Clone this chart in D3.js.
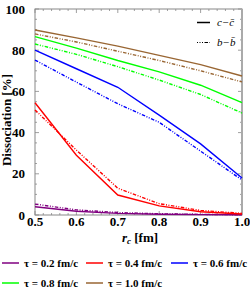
<!DOCTYPE html>
<html lang="en">
<head>
<meta charset="UTF-8">
<title>Dissociation vs r_c</title>
<script src="https://d3js.org/d3.v7.min.js"></script>
<style>
  body { margin: 0; background: white; }
  text { font-family: "Liberation Serif", "DejaVu Serif", serif; }
</style>
</head>
<body>
<svg width="250" height="295"></svg>
<script>
// r_c values (fm)
var rc = [0.5, 0.6, 0.7, 0.8, 0.9, 1.0];
var taus = ["0.2", "0.4", "0.6", "0.8", "1.0"];
var tauColors = ["#800080", "#ff0000", "#0000ff", "#00ff00", "#996633"];

// c-cbar (solid)
var ccTau02 = [4.0, 1.8, 0.8, 0.4, 0.2, 0.1];
var ccTau04 = [54.5, 29, 9.7, 4.4, 1.6, 0.5];
var ccTau06 = [80, 71, 62, 48.5, 34.5, 18];
var ccTau08 = [86.6, 81, 75, 69.5, 63, 54.5];
var ccTau10 = [89.8, 86, 82, 77.5, 73, 67.5];

// b-bbar (dot-dashed)
var bbTau02 = [5.3, 2.5, 1.2, 0.6, 0.3, 0.1];
var bbTau04 = [51, 31.5, 13, 5.5, 2.2, 0.8];
var bbTau06 = [75.2, 64.5, 54, 45, 31, 17];
var bbTau08 = [83, 78, 72, 65.5, 58.5, 49.5];
var bbTau10 = [87.9, 84, 79.5, 75, 70, 64.6];

var ccSeries = [ccTau02, ccTau04, ccTau06, ccTau08, ccTau10];
var bbSeries = [bbTau02, bbTau04, bbTau06, bbTau08, bbTau10];

var xTicks = [0.5, 0.6, 0.7, 0.8, 0.9, 1.0];
var yTicks = [0, 20, 40, 60, 80, 100];

var svg = d3.select("svg");
var x = d3.scaleLinear().domain([0.5, 1.0]).range([35, 242]);
var y = d3.scaleLinear().domain([0, 100]).range([215, 9]);

var frameColor = "#888";
var dashStyle = "3.5,1.5,1,1.5,1,1.5";

// minor/major ticks, inward on all four sides
var xMinor = d3.range(0.5, 1.0001, 0.02);
var yMinor = d3.range(0, 100.01, 5);

var ticks = svg.append("g").attr("stroke", frameColor).attr("stroke-width", 0.8);
xMinor.forEach(function(v) {
    var major = Math.abs(v * 10 - Math.round(v * 10)) < 1e-6;
    var len = major ? 4 : 2;
    ticks.append("line").attr("x1", x(v)).attr("x2", x(v)).attr("y1", y(0)).attr("y2", y(0) - len);
    ticks.append("line").attr("x1", x(v)).attr("x2", x(v)).attr("y1", y(100)).attr("y2", y(100) + len);
});
yMinor.forEach(function(v) {
    var major = v % 20 === 0;
    var len = major ? 4 : 2;
    ticks.append("line").attr("x1", x(0.5)).attr("x2", x(0.5) + len).attr("y1", y(v)).attr("y2", y(v));
    ticks.append("line").attr("x1", x(1.0)).attr("x2", x(1.0) - len).attr("y1", y(v)).attr("y2", y(v));
});

// frame
svg.append("rect")
    .attr("x", x(0.5)).attr("y", y(100))
    .attr("width", x(1.0) - x(0.5)).attr("height", y(0) - y(100))
    .attr("fill", "none").attr("stroke", frameColor).attr("stroke-width", 1);
svg.append("line").attr("x1", x(1.0)).attr("x2", x(1.0)).attr("y1", y(100)).attr("y2", y(0))
    .attr("stroke", "#aaa").attr("stroke-width", 2);

// tick labels
svg.append("g").selectAll("text").data(yTicks).enter().append("text")
    .attr("x", 25).attr("y", function(d) { return y(d) + 4.5; })
    .attr("text-anchor", "end").attr("font-size", 13).attr("font-weight", "bold")
    .text(function(d) { return d; });
svg.append("g").selectAll("text").data(xTicks).enter().append("text")
    .attr("x", function(d) { return x(d); }).attr("y", 226)
    .attr("text-anchor", "middle").attr("font-size", 13).attr("font-weight", "bold")
    .text(function(d) { return d.toFixed(1); });

// axis titles
svg.append("text")
    .attr("transform", "translate(11,120) rotate(-90)")
    .attr("text-anchor", "middle").attr("font-size", 13).attr("font-weight", "bold")
    .text("Dissociation [%]");
var xl = svg.append("text").attr("x", 140).attr("y", 242)
    .attr("text-anchor", "middle").attr("font-size", 13).attr("font-weight", "bold");
xl.append("tspan").attr("font-style", "italic").text("r");
xl.append("tspan").attr("font-style", "italic").attr("font-size", 9).attr("dy", 2).text("c");
xl.append("tspan").attr("dy", -2).text(" [fm]");

// curves
var line = d3.line()
    .x(function(d, i) { return x(rc[i]); })
    .y(function(d) { return y(d); });
var curves = svg.append("g").attr("fill", "none").attr("stroke-width", 1.4);
bbSeries.forEach(function(s, k) {
    curves.append("path").attr("d", line(s)).attr("stroke", tauColors[k])
        .attr("stroke-dasharray", dashStyle);
});
ccSeries.forEach(function(s, k) {
    curves.append("path").attr("d", line(s)).attr("stroke", tauColors[k]);
});

// top-right legend
var lg = svg.append("g");
lg.append("line").attr("x1", 197).attr("x2", 210).attr("y1", 22.5).attr("y2", 22.5)
    .attr("stroke", "black").attr("stroke-width", 1.5);
lg.append("line").attr("x1", 197).attr("x2", 210).attr("y1", 42.5).attr("y2", 42.5)
    .attr("stroke", "black").attr("stroke-width", 1.2).attr("stroke-dasharray", "1,1.5,1,1.5,1,1.5,3.5,1.5");
lg.append("text").attr("x", 217).attr("y", 26).attr("font-size", 11).attr("font-style", "italic")
    .text("c\u2212c\u0304");
lg.append("text").attr("x", 217).attr("y", 46).attr("font-size", 11).attr("font-style", "italic")
    .text("b\u2212b\u0304");

// bottom legend
var legPos = [[2, 263], [86, 263], [171, 263], [2, 283], [86, 283]];
taus.forEach(function(t, k) {
    var p = legPos[k];
    svg.append("line").attr("x1", p[0]).attr("x2", p[0] + 17).attr("y1", p[1]).attr("y2", p[1])
        .attr("stroke", tauColors[k]).attr("stroke-width", 1.5);
    var tx = svg.append("text").attr("x", p[0] + 22).attr("y", p[1] + 4)
        .attr("font-size", 11).attr("font-weight", "bold");
    tx.text("\u03c4 = " + t + " fm/c");
});
</script>
</body>
</html>
